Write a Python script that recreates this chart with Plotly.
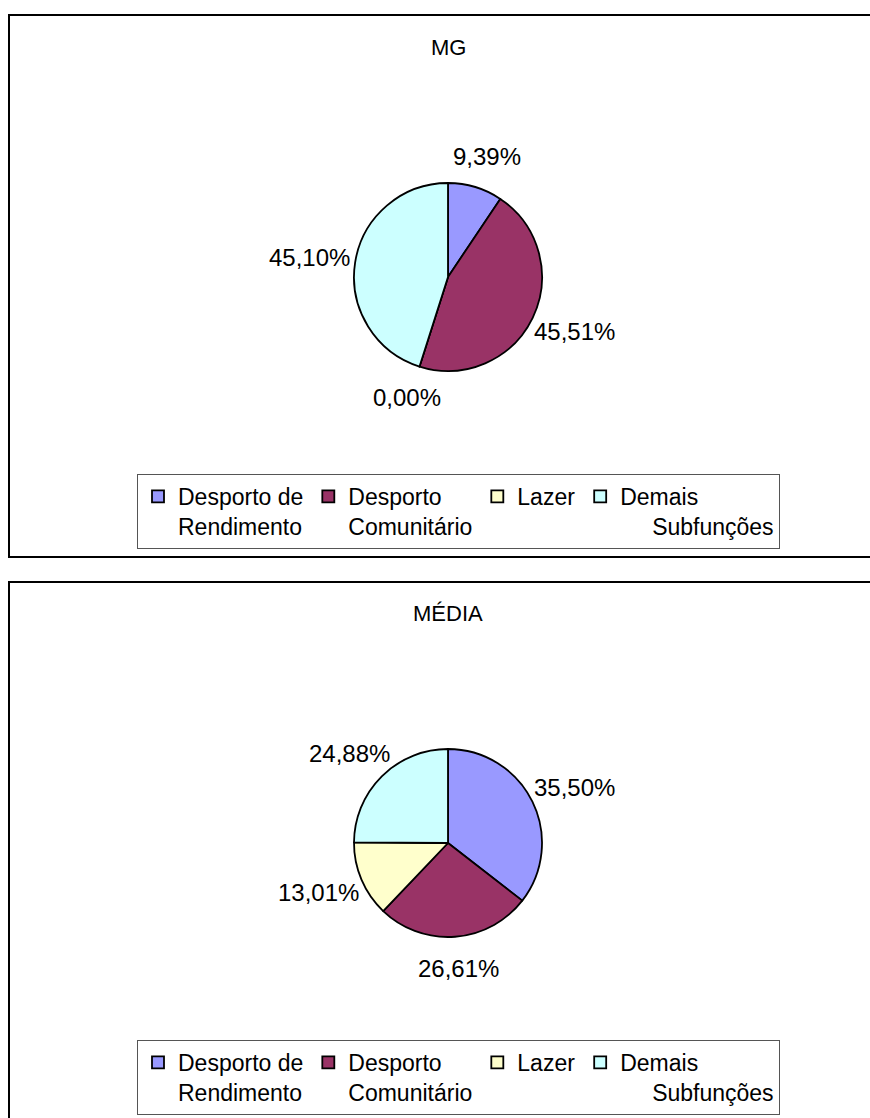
import math
import plotly.graph_objects as go

W, H = 870, 1118

# ---- data ----
categories = ["Desporto de Rendimento", "Desporto Comunitário", "Lazer", "Demais Subfunções"]
legend_labels = ["Desporto de<br>Rendimento", "Desporto<br>Comunitário", "Lazer",
                 "Demais<br>" + "\u00a0" * 5 + "Subfunções"]
mg_values = [9.39, 45.51, 0.00, 45.10]
media_values = [35.50, 26.61, 13.01, 24.88]
panel_titles = ["MG", "MÉDIA"]
colors = ["#9999FF", "#993366", "#FFFFCC", "#CCFFFF"]

FONT = "Liberation Sans, Arial, sans-serif"
LABEL_SIZE = 24
LEGEND_SIZE = 23
TITLE_SIZE = 22

# layout geometry (pixels)
pie_cx = 448
pie_cy = [277, 843]
R = 94
legend_top = [474, 1040]
title_y = [47, 613]
panel_y = [(15, 557), (582, 1130)]


def px(x):
    return x / W


def py(y):
    return 1 - y / H


fig = go.Figure()
annotations = []
series = [mg_values, media_values]
legends = ["legend", "legend2"]
groups = ["mg", "media"]

for i, vals in enumerate(series):
    cy = pie_cy[i]
    fig.add_trace(go.Pie(
        labels=legend_labels,
        values=vals,
        marker=dict(colors=colors, line=dict(color="black", width=1.8)),
        sort=False,
        direction="clockwise",
        rotation=0,
        textinfo="none",
        hoverinfo="label+percent",
        domain=dict(x=[px(pie_cx - R), px(pie_cx + R)], y=[py(cy + R), py(cy - R)]),
        legend=legends[i],
        legendgroup=groups[i],
        showlegend=True,
    ))
    # data labels placed from slice mid-angles
    total = sum(vals)
    cum = 0.0
    for v in vals:
        mid = (cum + v / 2) / total * 2 * math.pi
        cum += v
        s, c = math.sin(mid), math.cos(mid)
        txt = f"{v:.2f}".replace(".", ",") + "%"
        hw = len(txt) * 0.58 * LABEL_SIZE / 2
        d = R + 10
        lx = pie_cx + d * s + 0.87 * hw * s
        ly = cy - d * c - 22 * c
        annotations.append(dict(x=px(lx), y=py(ly), xref="paper", yref="paper",
                                text=txt, showarrow=False,
                                font=dict(family=FONT, size=LABEL_SIZE, color="black"),
                                xanchor="center", yanchor="middle"))
    annotations.append(dict(x=px(pie_cx), y=py(title_y[i]), xref="paper", yref="paper",
                            text=panel_titles[i], showarrow=False,
                            font=dict(family=FONT, size=TITLE_SIZE, color="black"),
                            xanchor="center", yanchor="middle"))

shapes = []
for (y0, y1) in panel_y:
    shapes.append(dict(type="rect", xref="paper", yref="paper",
                       x0=px(9), x1=1.05, y0=py(y1), y1=py(y0),
                       line=dict(color="black", width=2), fillcolor="rgba(0,0,0,0)"))

leg_common = dict(orientation="h", xanchor="left", yanchor="top", valign="top",
                  bordercolor="#555555", borderwidth=1, bgcolor="white",
                  font=dict(family=FONT, size=LEGEND_SIZE, color="black"),
                  itemclick=False, itemdoubleclick=False, traceorder="normal")

fig.update_layout(
    width=W, height=H,
    margin=dict(l=0, r=0, t=0, b=0),
    paper_bgcolor="white", plot_bgcolor="white",
    annotations=annotations,
    shapes=shapes,
    legend=dict(x=px(137), y=py(legend_top[0]), **leg_common),
    legend2=dict(x=px(137), y=py(legend_top[1]), **leg_common),
)

fig.write_html("out.html")
